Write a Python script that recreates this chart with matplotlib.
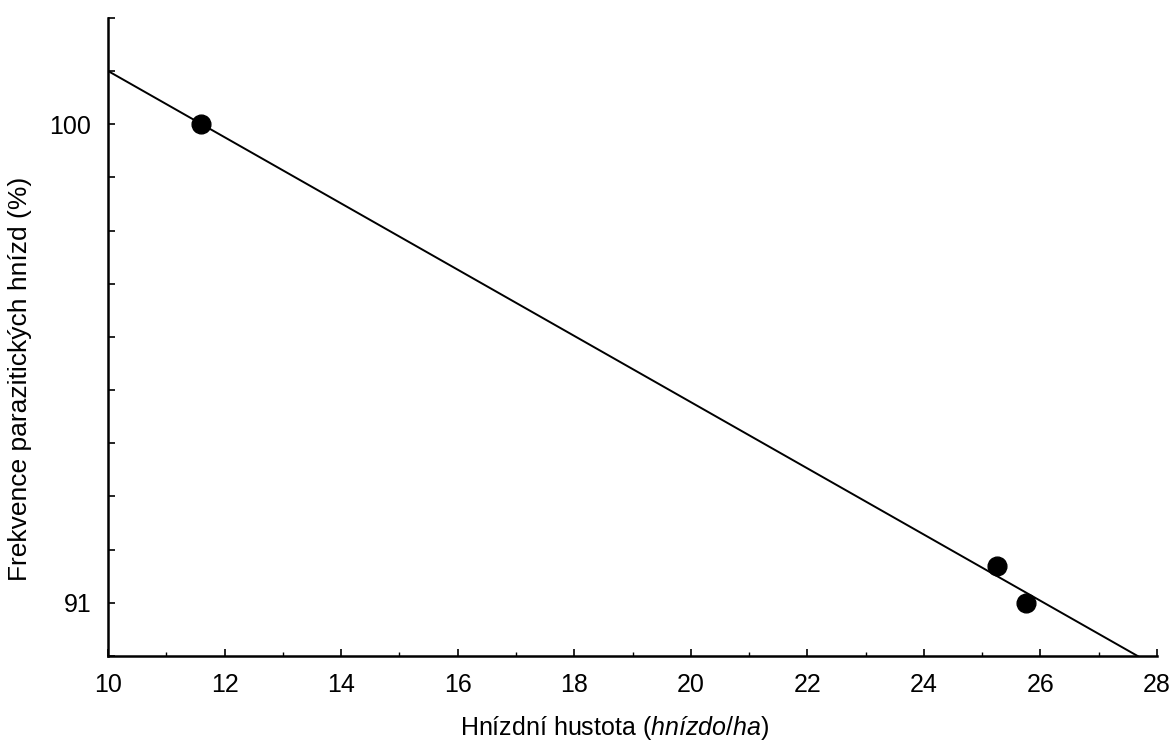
import numpy as np
import matplotlib
matplotlib.use("Agg")
import matplotlib.pyplot as plt
from matplotlib.ticker import MultipleLocator, FixedLocator, FuncFormatter

plt.rcParams['font.family'] = ['Liberation Sans', 'DejaVu Sans']
plt.rcParams['mathtext.fontset'] = 'custom'
plt.rcParams['mathtext.rm'] = 'Liberation Sans'
plt.rcParams['mathtext.it'] = 'Liberation Sans:italic'

# Data
density = [11.6, 25.25, 25.76]          # nests/ha
parasit_freq = [100.0, 91.7, 91.0]      # %
x_ticks = [10, 12, 14, 16, 18, 20, 22, 24, 26, 28]
y_labeled = [100, 91]

W, H = 1175, 743
fig = plt.figure(figsize=(W / 100, H / 100), dpi=100)
ax = fig.add_axes([0.0919, 0.1171, 0.8928, 0.8587])

# Linear fit
slope, intercept = np.polyfit(density, parasit_freq, 1)
xl = np.array([10, 28])
ax.plot(xl, intercept + slope * xl, color='black', lw=1.4, zorder=2)

ax.plot(density, parasit_freq, 'o', color='black', ms=13.5, zorder=3)

ax.set_xlim(10, 28)
ax.set_ylim(90, 102)

ax.spines['top'].set_visible(False)
ax.spines['right'].set_visible(False)
ax.spines['left'].set_linewidth(1.8)
ax.spines['bottom'].set_linewidth(1.8)

ax.xaxis.set_major_locator(FixedLocator(x_ticks))
ax.xaxis.set_minor_locator(MultipleLocator(1))
ax.yaxis.set_major_locator(MultipleLocator(1))
ax.yaxis.set_major_formatter(FuncFormatter(lambda v, p: f"{int(round(v))}" if int(round(v)) in y_labeled else ""))

ax.tick_params(axis='both', which='major', direction='in', length=5, width=1.2, labelsize=18)
ax.tick_params(axis='x', which='major', pad=12)
ax.tick_params(axis='x', which='minor', direction='in', length=3, width=1.0)
ax.tick_params(axis='y', which='major', pad=12)

fig.text(460 / W, (H - 714) / H, "Hnízdní hustota ($\\it{hnízdo/ha}$)",
         fontsize=18, ha='left', va='top')
fig.text(8 / W, (H - 581) / H, "Frekvence parazitických hnízd (%)",
         fontsize=19, rotation=90, ha='left', va='bottom')

fig.savefig("out.png", dpi=100)
